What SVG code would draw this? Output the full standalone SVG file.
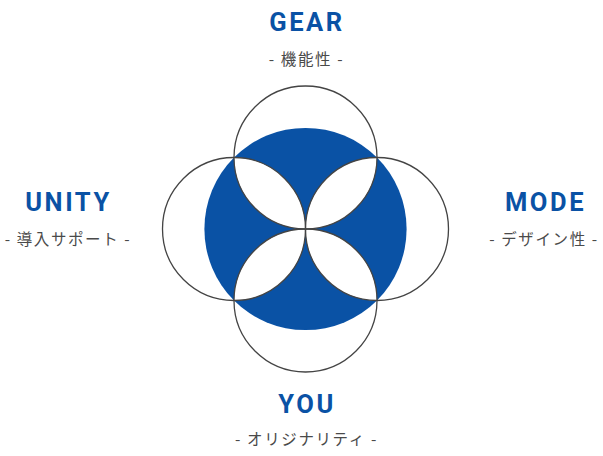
<svg xmlns="http://www.w3.org/2000/svg" width="603" height="456" viewBox="0 0 603 456">
<style>
.t{font-family:Roboto,"Noto Sans","Noto Sans CJK JP",sans-serif;font-weight:700;font-size:25.5px;fill:#0a52a5;text-anchor:middle;letter-spacing:2.6px}
.s{font-family:"Noto Sans CJK JP","Noto Sans",sans-serif;font-size:15.5px;fill:#4a4a4a;text-anchor:middle;letter-spacing:1.6px}
.c{fill:none;stroke:#444;stroke-width:1.3}
</style>
<rect width="603" height="456" fill="#fff"/>
<g id="diagram">
<circle cx="305.5" cy="229" r="101.1" fill="#0a52a5"/>
<g fill="#fff">
<path d="M305.5,229 A71.5,71.5 0 0 1 377,157.5 A71.5,71.5 0 0 1 305.5,229Z"/>
<path d="M305.5,229 A71.5,71.5 0 0 1 377,300.5 A71.5,71.5 0 0 1 305.5,229Z"/>
<path d="M305.5,229 A71.5,71.5 0 0 0 234,300.5 A71.5,71.5 0 0 0 305.5,229Z"/>
<path d="M305.5,229 A71.5,71.5 0 0 0 234,157.5 A71.5,71.5 0 0 0 305.5,229Z"/>
</g>
</g>
<g id="gear"><circle class="c" cx="305.5" cy="157.5" r="71.5"/><text class="t" x="307" y="31">GEAR</text><text class="s" x="306.5" y="65">- 機能性 -</text></g>
<g id="mode"><circle class="c" cx="377" cy="229" r="71.5"/><text class="t" x="545.5" y="211">MODE</text><text class="s" x="544" y="245">- デザイン性 -</text></g>
<g id="you"><circle class="c" cx="305.5" cy="300.5" r="71.5"/><text class="t" x="307" y="413">YOU</text><text class="s" x="306.5" y="445">- オリジナリティ -</text></g>
<g id="unity"><circle class="c" cx="234" cy="229" r="71.5"/><text class="t" x="68.5" y="211">UNITY</text><text class="s" x="68" y="245">- 導入サポート -</text></g>
<g id="connectors"></g>
</svg>
